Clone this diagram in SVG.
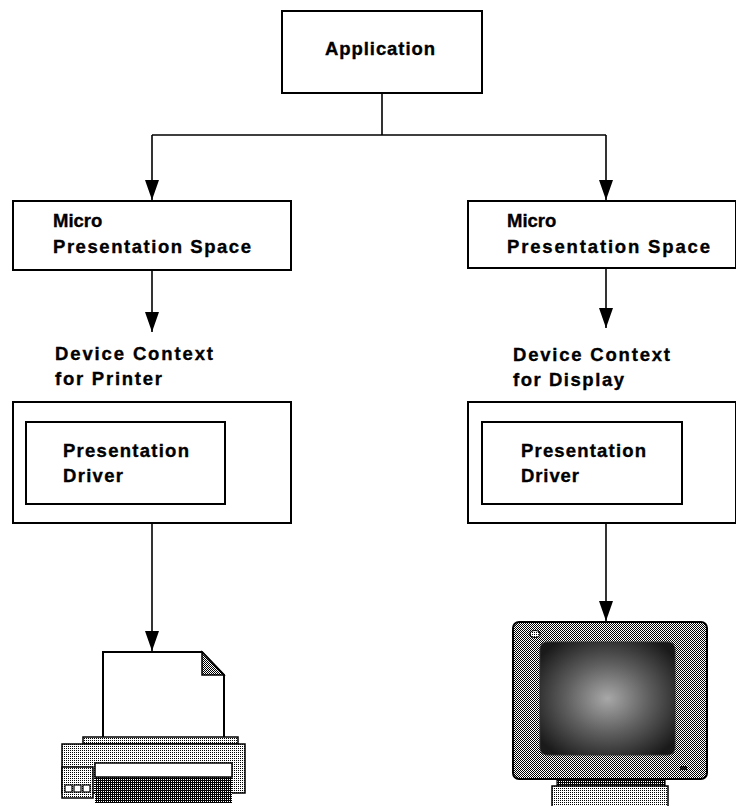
<svg xmlns="http://www.w3.org/2000/svg" width="736" height="806" viewBox="0 0 736 806">
  <style>
    .box { fill: #fff; stroke: #000; stroke-width: 2; }
    .lbl { font-family: "Liberation Sans", Arial, sans-serif; font-weight: bold; font-size: 18.5px; fill: #000; stroke: #000; stroke-width: 0.35; }
    .wire { fill: none; stroke: #000; stroke-width: 1.6; }
  </style>
  <defs>
    <marker id="arrow" viewBox="0 0 20 14" refX="20" refY="7" markerWidth="20" markerHeight="14" markerUnits="userSpaceOnUse" orient="auto">
      <path d="M0,0 L20,7 L0,14 z" fill="#000"/>
    </marker>
    <!-- halftone screens -->
    <pattern id="ht25" width="2" height="2" patternUnits="userSpaceOnUse">
      <rect width="2" height="2" fill="#fff"/>
      <rect width="1" height="1" fill="#000"/>
    </pattern>
    <pattern id="ht50" width="2" height="2" patternUnits="userSpaceOnUse">
      <rect width="2" height="2" fill="#fff"/>
      <rect width="1" height="1" fill="#000"/>
      <rect x="1" y="1" width="1" height="1" fill="#000"/>
    </pattern>
    <pattern id="ht75" width="2" height="2" patternUnits="userSpaceOnUse">
      <rect width="2" height="2" fill="#000"/>
      <rect x="1" y="1" width="1" height="1" fill="#fff"/>
    </pattern>
    <radialGradient id="screen" cx="0.5" cy="0.5" r="0.62">
      <stop offset="0" stop-color="#a8a8a8"/>
      <stop offset="0.5" stop-color="#5e5e5e"/>
      <stop offset="1" stop-color="#1a1a1a"/>
    </radialGradient>
  </defs>

  <!-- connectors -->
  <g id="connectors">
    <path class="wire" d="M382,93 V135 M152,135 H606"/>
    <path class="wire" d="M152,135 V200" marker-end="url(#arrow)"/>
    <path class="wire" d="M606,135 V200" marker-end="url(#arrow)"/>
    <path class="wire" d="M152,270 V332" marker-end="url(#arrow)"/>
    <path class="wire" d="M606,268 V328" marker-end="url(#arrow)"/>
    <path class="wire" d="M152,523 V651" marker-end="url(#arrow)"/>
    <path class="wire" d="M606,523 V621" marker-end="url(#arrow)"/>
  </g>

  <g id="application">
    <rect class="box" x="282" y="11" width="200" height="82"/>
    <text class="lbl" x="325" y="55" textLength="110" lengthAdjust="spacing">Application</text>
  </g>

  <g id="mps-printer">
    <rect class="box" x="13" y="201" width="278" height="69"/>
    <text class="lbl" x="53" y="227">Micro</text>
    <text class="lbl" x="53" y="253" textLength="198" lengthAdjust="spacing">Presentation  Space</text>
  </g>

  <g id="mps-display">
    <rect class="box" x="468" y="201" width="268" height="67"/>
    <text class="lbl" x="507" y="227">Micro</text>
    <text class="lbl" x="507" y="253" textLength="203" lengthAdjust="spacing">Presentation  Space</text>
  </g>

  <g id="dc-printer">
    <text class="lbl" x="55" y="360" textLength="158" lengthAdjust="spacing">Device  Context</text>
    <text class="lbl" x="55" y="385" textLength="107" lengthAdjust="spacing">for  Printer</text>
    <rect class="box" x="13" y="402" width="278" height="121"/>
  </g>

  <g id="driver-printer">
    <rect class="box" x="26" y="422" width="199" height="82"/>
    <text class="lbl" x="63" y="457" textLength="126" lengthAdjust="spacing">Presentation</text>
    <text class="lbl" x="63" y="482" textLength="60" lengthAdjust="spacing">Driver</text>
  </g>

  <g id="dc-display">
    <text class="lbl" x="513" y="361" textLength="157" lengthAdjust="spacing">Device  Context</text>
    <text class="lbl" x="513" y="386" textLength="111" lengthAdjust="spacing">for  Display</text>
    <rect class="box" x="468" y="402" width="268" height="121"/>
  </g>

  <g id="driver-display">
    <rect class="box" x="482" y="422" width="200" height="82"/>
    <text class="lbl" x="521" y="457" textLength="125" lengthAdjust="spacing">Presentation</text>
    <text class="lbl" x="521" y="482" textLength="58" lengthAdjust="spacing">Driver</text>
  </g>

  <!-- printer -->
  <g id="printer">
    <path d="M103,652 H202 L224,675 V740 H103 Z" fill="#fff" stroke="#000" stroke-width="2"/>
    <path d="M202,652 L224,675 H202 Z" fill="url(#ht50)" stroke="#000" stroke-width="1.5"/>
    <rect x="83" y="737" width="155" height="7" fill="url(#ht25)" stroke="#000" stroke-width="1.5"/>
    <rect x="62" y="744" width="183" height="49" fill="url(#ht25)" stroke="#000" stroke-width="1.5"/>
    <rect x="95" y="777" width="137" height="26" fill="url(#ht75)"/>
    <rect x="95" y="763" width="137" height="14" fill="#fff" stroke="#000" stroke-width="1.5"/>
    <rect x="62" y="767" width="31" height="31" fill="url(#ht25)" stroke="#000" stroke-width="1.5"/>
    <rect x="65" y="785" width="7" height="7" fill="#fff" stroke="#000" stroke-width="1.2"/>
    <rect x="74" y="785" width="7" height="7" fill="#fff" stroke="#000" stroke-width="1.2"/>
    <rect x="83" y="785" width="7" height="7" fill="#fff" stroke="#000" stroke-width="1.2"/>
  </g>

  <!-- display monitor -->
  <g id="monitor">
    <rect x="557" y="778" width="108" height="9" fill="url(#ht75)" stroke="#000" stroke-width="1.2"/>
    <rect x="552" y="786" width="116" height="22" fill="url(#ht25)" stroke="#000" stroke-width="1.5"/>
    <rect x="513" y="622" width="194" height="157" rx="6" fill="url(#ht50)" stroke="#000" stroke-width="2"/>
    <rect x="540" y="642" width="135" height="113" rx="7" fill="url(#screen)" stroke="#333" stroke-width="1"/>
    <ellipse cx="535" cy="634" rx="5" ry="3.5" fill="url(#ht25)" stroke="#000" stroke-width="1.2"/>
    <rect x="680" y="766" width="7" height="4" fill="#111"/>
  </g>
</svg>
